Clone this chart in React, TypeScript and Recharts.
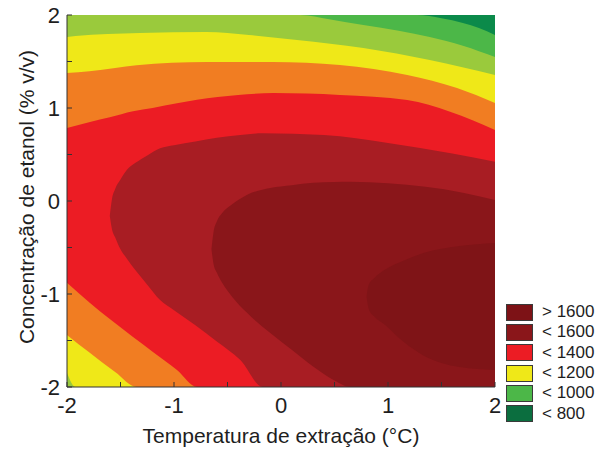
import React from "react";
import { ComposedChart, Area, XAxis, YAxis } from "recharts";

// contour bands, each as [x, lower y, upper y]
// (regions are nested, so each one is painted over the previous)
const darkGreenBand = [
  [-2, -2, 2],
  [2, -2, 2],
];
const greenBand = [
  [-2, -2, 2],
  [1.27, -2, 2],
  [1.5, -2, 1.965],
  [1.7, -2, 1.914],
  [1.85, -2, 1.86],
  [2, -2, 1.785],
];
const lightGreenBand = [
  [-2, -2, 2],
  [0.18, -2, 2],
  [0.45, -2, 1.955],
  [0.77, -2, 1.892],
  [1.1, -2, 1.83],
  [1.39, -2, 1.763],
  [1.7, -2, 1.67],
  [2, -2, 1.548],
];
const yellowBand = [
  [-2, -1.85, 1.763],
  [-1.92, -2, 1.775],
  [-1.32, -2, 1.806],
  [-0.7, -2, 1.817],
  [-0.3, -2, 1.785],
  [0.15, -2, 1.731],
  [0.77, -2, 1.645],
  [1.39, -2, 1.516],
  [2, -2, 1.355],
];
const orangeBand = [
  [-2, -1.44, 1.376],
  [-1.79, -1.63, 1.395],
  [-1.55, -1.84, 1.43],
  [-1.35, -2, 1.46],
  [-0.69, -2, 1.495],
  [-0.08, -2, 1.495],
  [0.55, -2, 1.462],
  [1.18, -2, 1.355],
  [1.645, -2, 1.215],
  [2, -2, 1.054],
];
const redBand = [
  [-2, -0.88, 0.785],
  [-1.785, -1.097, 0.85],
  [-1.6, -1.27, 0.9],
  [-1.383, -1.462, 0.965],
  [-1.2, -1.62, 1.0],
  [-0.972, -1.817, 1.05],
  [-0.785, -2, 1.09],
  [-0.4, -2, 1.14],
  [-0.07, -2, 1.16],
  [0.55, -2, 1.14],
  [1.18, -2, 1.085],
  [1.58, -2, 0.96],
  [2, -2, 0.763],
];
const crimsonBand = [
  [-1.6, -0.16, -0.16],
  [-1.58, -0.3, 0.02],
  [-1.55, -0.39, 0.13],
  [-1.5, -0.52, 0.23],
  [-1.44, -0.62, 0.335],
  [-1.36, -0.745, 0.41],
  [-1.25, -0.9, 0.49],
  [-1.13, -1.065, 0.567],
  [-1.0, -1.175, 0.6],
  [-0.8, -1.335, 0.64],
  [-0.6, -1.51, 0.68],
  [-0.38, -1.71, 0.71],
  [-0.17, -2, 0.728],
  [0.4, -2, 0.71],
  [1.0, -2, 0.625],
  [1.6, -2, 0.51],
  [2, -2, 0.423],
];
const maroonBand = [
  [-0.65, -0.52, -0.52],
  [-0.63, -0.68, -0.33],
  [-0.6, -0.77, -0.22],
  [-0.55, -0.88, -0.13],
  [-0.45, -1.04, -0.03],
  [-0.32, -1.2, 0.065],
  [-0.1, -1.42, 0.14],
  [0.1, -1.6, 0.17],
  [0.3, -1.78, 0.195],
  [0.5, -1.93, 0.205],
  [0.65, -2, 0.207],
  [1.0, -2, 0.19],
  [1.35, -2, 0.153],
  [1.7, -2, 0.09],
  [2, -2, 0.011],
];
const darkestBand = [
  [0.8, -1.03, -1.03],
  [0.82, -1.16, -0.9],
  [0.87, -1.24, -0.83],
  [0.97, -1.33, -0.74],
  [1.15, -1.52, -0.64],
  [1.33, -1.66, -0.56],
  [1.67, -1.785, -0.485],
  [2, -1.817, -0.452],
];

const bandList = [darkGreenBand, greenBand, lightGreenBand, yellowBand, orangeBand, redBand, crimsonBand, maroonBand, darkestBand];
const bandColors = ["#0b8a4a", "#4cb748", "#9aca3c", "#efe818", "#f17d22", "#ec1c24", "#a81d23", "#8a161a", "#7f1417"];

const legendLabels = ["> 1600", "< 1600", "< 1400", "< 1200", "< 1000", "< 800"];
const legendColors = ["#7d1216", "#8a161a", "#ec1c24", "#efe818", "#4cb748", "#0b6e3f"];

const axisTicks = [-2, -1.5, -1, -0.5, 0, 0.5, 1, 1.5, 2];

const FONT = "'Liberation Sans', Arial, sans-serif";
const INK = "#1e1e1e";
const FRAME = "#333";

const intLabel = (v: number) => (Number.isInteger(v) ? String(v) : "");
const noLabel = () => "";

export default function App() {
  const tickStyle = { fontSize: 22, fill: INK, fontFamily: FONT };

  return (
    <div style={{ position: "absolute", left: 0, top: 0, width: 611, height: 450, background: "#fff" }}>
      <ComposedChart width={611} height={450} margin={{ top: 15, right: 116, bottom: 33, left: 27 }}>
        <XAxis
          dataKey="x"
          type="number"
          domain={[-2, 2]}
          allowDataOverflow
          ticks={axisTicks}
          tickFormatter={intLabel}
          tickSize={-5}
          tickMargin={15}
          height={30}
          tick={tickStyle}
          axisLine={{ stroke: FRAME }}
          tickLine={{ stroke: FRAME }}
        />
        <XAxis
          xAxisId="top"
          orientation="top"
          type="number"
          domain={[-2, 2]}
          allowDataOverflow
          ticks={axisTicks}
          tickFormatter={noLabel}
          tickSize={-5}
          height={0}
          axisLine={{ stroke: FRAME }}
          tickLine={{ stroke: FRAME }}
        />
        <YAxis
          type="number"
          domain={[-2, 2]}
          allowDataOverflow
          ticks={axisTicks}
          tickFormatter={intLabel}
          tickSize={-5}
          tickMargin={12}
          width={40}
          tick={tickStyle}
          axisLine={{ stroke: FRAME }}
          tickLine={{ stroke: FRAME }}
        />
        <YAxis
          yAxisId="right"
          orientation="right"
          type="number"
          domain={[-2, 2]}
          allowDataOverflow
          ticks={axisTicks}
          tickFormatter={noLabel}
          tickSize={-5}
          width={0}
          axisLine={{ stroke: FRAME }}
          tickLine={{ stroke: FRAME }}
        />
        {bandList.map((band, i) => (
          <Area
            key={i}
            data={band.map(([x, lo, hi]) => ({ x, range: [lo, hi] }))}
            dataKey="range"
            type="monotone"
            stroke="none"
            fill={bandColors[i]}
            fillOpacity={1}
            dot={false}
            activeDot={false}
            isAnimationActive={false}
          />
        ))}
      </ComposedChart>

      <div
        style={{
          position: "absolute",
          left: 81,
          top: 425,
          width: 400,
          textAlign: "center",
          fontFamily: FONT,
          fontSize: 21,
          lineHeight: "21px",
          color: INK,
        }}
      >
        Temperatura de extração (°C)
      </div>
      <div
        style={{
          position: "absolute",
          left: 27,
          top: 197,
          transform: "translate(-50%, -50%) rotate(-90deg)",
          whiteSpace: "nowrap",
          fontFamily: FONT,
          fontSize: 21,
          lineHeight: "22px",
          color: INK,
        }}
      >
        Concentração de etanol (% v/v)
      </div>

      <div style={{ position: "absolute", left: 506, top: 302, fontFamily: FONT, fontSize: 17, color: INK }}>
        {legendLabels.map((label, i) => (
          <div key={label} style={{ display: "flex", alignItems: "center", height: 20.3 }}>
            <div
              style={{
                width: 25,
                height: 15,
                background: legendColors[i],
                border: "1px solid #3a3a3a",
              }}
            />
            <span style={{ marginLeft: 9, lineHeight: "16px" }}>{label}</span>
          </div>
        ))}
      </div>
    </div>
  );
}
